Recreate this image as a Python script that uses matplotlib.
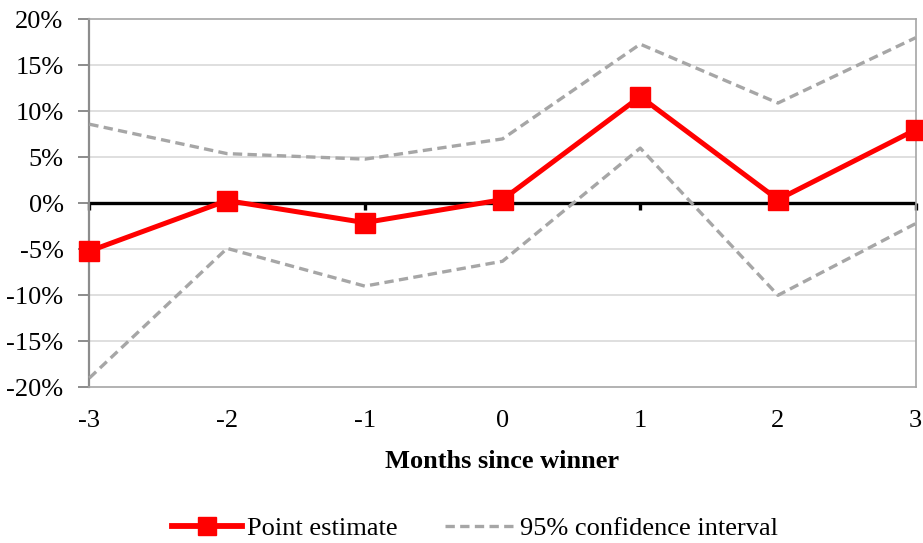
import matplotlib
matplotlib.use("Agg")
import matplotlib.pyplot as plt
from matplotlib.ticker import FuncFormatter

plt.rcParams['font.family'] = ['Liberation Serif', 'DejaVu Serif']

months = [-3, -2, -1, 0, 1, 2, 3]
point_estimate = [-5.2, 0.3, -2.1, 0.4, 11.6, 0.4, 8.0]
ci_upper = [8.6, 5.4, 4.8, 7.0, 17.3, 10.9, 18.0]
ci_lower = [-19.0, -4.9, -9.0, -6.3, 6.0, -10.0, -2.2]
y_ticks = [-20, -15, -10, -5, 0, 5, 10, 15, 20]

FS = 19
W, H = 923, 543
fig = plt.figure(figsize=(W / 100, H / 100), dpi=100)
ax = fig.add_axes([89.3 / W, (H - 387.3) / H, (915.7 - 89.3) / W, (387.3 - 19.3) / H])

ax.set_xlim(-3, 3)
ax.set_ylim(-20, 20)
ax.set_yticks(y_ticks)
ax.set_xticks(months)
ax.yaxis.set_major_formatter(FuncFormatter(lambda v, p: f"{int(round(v))}%"))
ax.set_xticklabels([str(m) for m in months])

for v in y_ticks:
    if v not in (-20, 0, 20):
        ax.axhline(v, color='#D9D9D9', lw=1.2, zorder=0)

frame = '#A6A6A6'
for s in ax.spines.values():
    s.set_color(frame)
    s.set_linewidth(1.2)
ax.spines['left'].set_linewidth(1.6)
ax.spines['left'].set_color('#8C8C8C')

ax.tick_params(axis='y', direction='out', length=8, width=1.4, color='#8C8C8C',
               labelsize=FS, pad=10.5)
ax.tick_params(axis='x', length=0, labelsize=FS, pad=16)

# zero reference line with its own tick marks
ax.axhline(0, color='black', lw=2.4, zorder=2)
for m in months:
    ax.plot([m, m], [0, -0.75], color='black', lw=2.4, zorder=2,
            solid_capstyle='butt', clip_on=False)

ci_style = dict(color='#A6A6A6', lw=2.4, dashes=(2.8, 1.6), zorder=3, clip_on=False)
ax.plot(months, ci_upper, **ci_style, label='95% confidence interval')
ax.plot(months, ci_lower, **ci_style)
ax.plot(months, point_estimate, color='#FF0000', lw=3.6, marker='s', markersize=14,
        zorder=4, clip_on=False, label='Point estimate')

ax.set_xlabel('Months since winner', fontsize=FS, fontweight='bold', labelpad=13)

handles, labels = ax.get_legend_handles_labels()
order = [1, 0]
leg = fig.legend([handles[i] for i in order], [labels[i] for i in order],
                 loc='center', bbox_to_anchor=(475 / W, (H - 528) / H), ncol=2,
                 frameon=False, fontsize=FS, handlelength=2.65, columnspacing=1.78,
                 handletextpad=0.19, borderaxespad=0, borderpad=0)
leg.legend_handles[0].set_markersize(13)
leg.legend_handles[0].set_linewidth(4.2)

fig.savefig('out.png', dpi=100)
